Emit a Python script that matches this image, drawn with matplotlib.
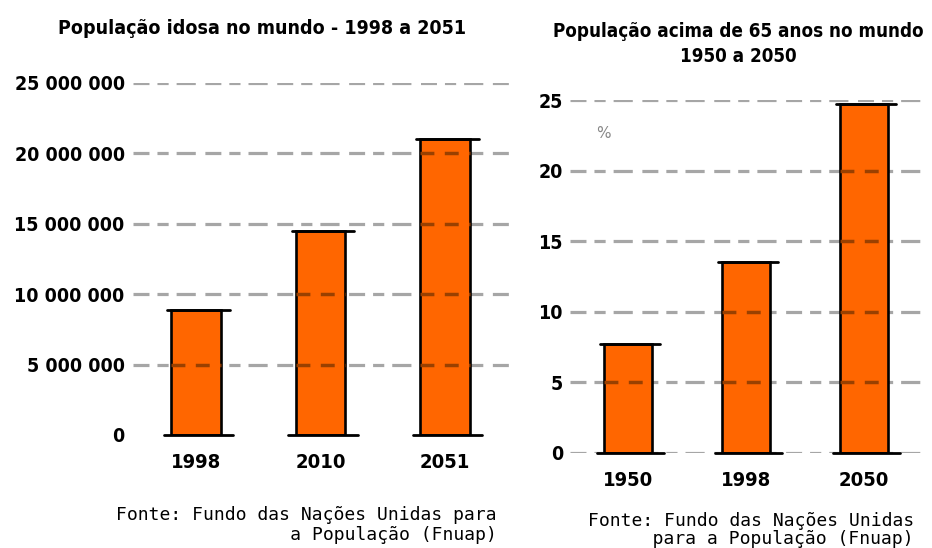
import matplotlib
matplotlib.use("Agg")
import matplotlib.pyplot as plt
import numpy as np

# ---- data ----
left_years = ["1998", "2010", "2051"]
left_values = [8.9e6, 14.5e6, 21.0e6]
left_ticks = [0, 5e6, 10e6, 15e6, 20e6, 25e6]
left_ticklabels = ["0", "5 000 000", "10 000 000", "15 000 000", "20 000 000", "25 000 000"]

right_years = ["1950", "1998", "2050"]
right_values = [7.7, 13.5, 24.7]
right_ticks = [0, 5, 10, 15, 20, 25]
right_ticklabels = ["0", "5", "10", "15", "20", "25"]

left_title = "População idosa no mundo - 1998 a 2051"
right_title = "População acima de 65 anos no mundo\n1950 a 2050"
left_source = "Fonte: Fundo das Nações Unidas para\n      a População (Fnuap)"
right_source = "Fonte: Fundo das Nações Unidas\n   para a População (Fnuap)"

ORANGE = "#ff6600"
GRID = "#a6a6a6"
GRID_ON_BAR = "#9a4000"
W, H = 932, 548
fig = plt.figure(figsize=(W / 100, H / 100), dpi=100)
fig.patch.set_facecolor("white")

BOLD = dict(family="DejaVu Sans", weight="bold", stretch="condensed")
DASH = (0, (5, 2.5, 3.5, 2.5, 6, 3))


def px_axes(x0, x1, y_top, y_bot):
    return fig.add_axes([x0 / W, 1 - y_bot / H, (x1 - x0) / W, (y_bot - y_top) / H])


def draw(ax, cats, vals, ticks, labels, grid_ticks, width, xlim, ymax, ypad):
    x = np.arange(len(cats))
    for t in grid_ticks:
        ax.axhline(t, color=GRID, lw=2.3, linestyle=DASH, zorder=1)
    ax.bar(x, vals, width=width, color=ORANGE, edgecolor="black",
           linewidth=1.9, zorder=2)
    # grid dashes seen through the bars (darker)
    for xi, v in zip(x, vals):
        for t in grid_ticks:
            if 0 < t < v:
                ax.plot([xi - width / 2, xi + width / 2], [t, t], color=GRID_ON_BAR,
                        lw=2.5, linestyle=(0, (4, 3)), zorder=2.5)
    # hand-drawn style overshoots of the bar outlines
    for xi, v in zip(x, vals):
        ax.plot([xi - width / 2 - 0.06, xi + width / 2 + 0.1], [0, 0],
                color="black", lw=2.0, zorder=3, solid_capstyle="round", clip_on=False)
        ax.plot([xi - width / 2 - 0.03, xi + width / 2 + 0.07], [v, v],
                color="black", lw=2.0, zorder=3, solid_capstyle="round", clip_on=False)
    ax.set_xlim(*xlim)
    ax.set_ylim(0, ymax)
    ax.set_yticks(ticks)
    ax.set_yticklabels(labels, **BOLD, fontsize=14)
    ax.set_xticks(x)
    ax.set_xticklabels(cats, **BOLD, fontsize=14.5)
    ax.tick_params(axis="both", length=0)
    ax.tick_params(axis="y", pad=ypad)
    ax.tick_params(axis="x", pad=13)
    for s in ax.spines.values():
        s.set_visible(False)
    ax.patch.set_alpha(0)


# left chart
axL = px_axes(133, 515, 83, 435)
draw(axL, left_years, left_values, left_ticks, left_ticklabels,
     left_ticks[1:], 0.40, (-0.506, 2.562), 25e6, 6)

# right chart
axR = px_axes(570, 925, 100, 453)
draw(axR, right_years, right_values, right_ticks, right_ticklabels,
     right_ticks, 0.41, (-0.49, 2.518), 25, 5)
axR.text(0.093, 0.905, "%", transform=axR.transAxes, color="#888888",
         fontsize=11, ha="center", va="center")

# titles
fig.text(262 / W, 1 - 28 / H, left_title, ha="center", va="center",
         fontsize=14, **BOLD)
fig.text(738 / W, 1 - 44 / H, right_title, ha="center", va="center",
         fontsize=13.5, linespacing=1.45, **BOLD)

# sources
fig.text(497 / W, 1 - 525 / H, left_source, ha="right", va="center",
         family="DejaVu Sans Mono", fontsize=13, linespacing=1.2)
fig.text(914 / W, 1 - 530 / H, right_source, ha="right", va="center",
         family="DejaVu Sans Mono", fontsize=13, linespacing=1.05)

fig.savefig("out.png", dpi=100)
